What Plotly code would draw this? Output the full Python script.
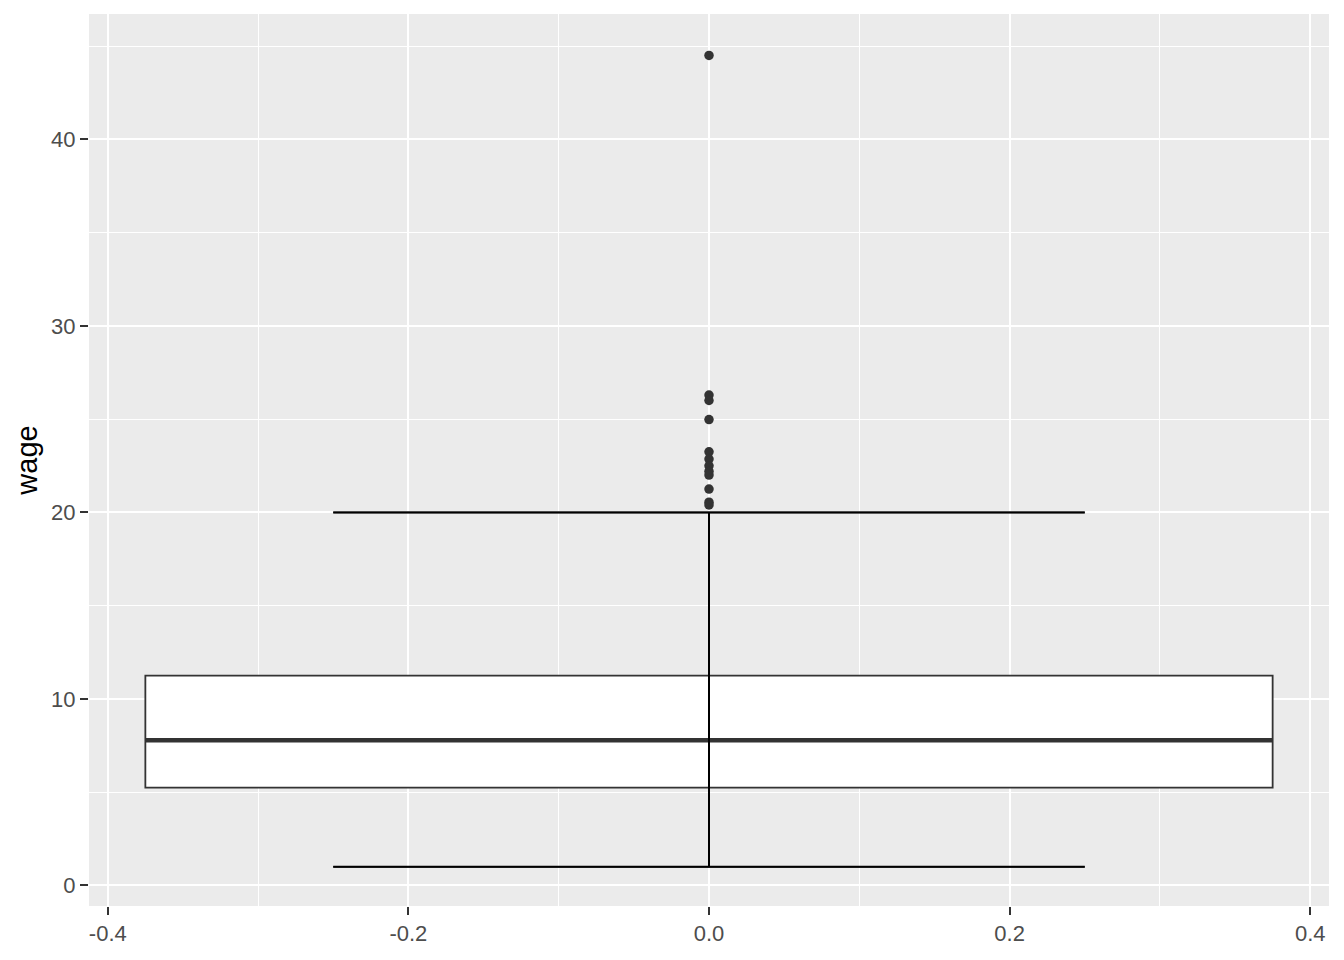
import plotly.graph_objects as go

# Box statistics (wage)
position = [0.0]
q1 = [5.25]
median = [7.78]
q3 = [11.25]
lower_whisker = [1.0]
upper_whisker = [20.0]
outliers = [44.5, 26.29, 26.0, 24.98, 23.25, 22.86, 22.5, 22.2, 22.0, 21.25, 20.55, 20.4]

x_tick_values = [-0.4, -0.2, 0.0, 0.2, 0.4]
x_tick_labels = ["-0.4", "-0.2", "0.0", "0.2", "0.4"]
y_tick_values = [0, 10, 20, 30, 40]
y_tick_labels = ["0", "10", "20", "30", "40"]

box_width = 0.75
cap_width = 0.5
FONT = "Liberation Sans, Arial, sans-serif"

fig = go.Figure()

fig.add_trace(go.Box(
    x=position, q1=q1, median=median, q3=q3,
    lowerfence=lower_whisker, upperfence=upper_whisker,
    width=box_width, whiskerwidth=cap_width / box_width,
    boxpoints=False, fillcolor="white",
    line=dict(color="#333333", width=1.8),
    showlegend=False, hoverinfo="skip",
))

# thick median line (ggplot fatten)
fig.add_trace(go.Scatter(
    x=[position[0] - box_width / 2, position[0] + box_width / 2],
    y=[median[0], median[0]],
    mode="lines", line=dict(color="#333333", width=4.5),
    showlegend=False, hoverinfo="skip",
))

# errorbar layer drawn on top
half = cap_width / 2
p = position[0]
fig.add_trace(go.Scatter(
    x=[p - half, p + half, None, p - half, p + half, None, p, p],
    y=[upper_whisker[0], upper_whisker[0], None, lower_whisker[0], lower_whisker[0], None,
       lower_whisker[0], upper_whisker[0]],
    mode="lines", line=dict(color="black", width=2),
    showlegend=False, hoverinfo="skip",
))

fig.add_trace(go.Scatter(
    x=[p] * len(outliers), y=outliers, mode="markers",
    marker=dict(color="#333333", size=9.5, line=dict(width=0)),
    showlegend=False,
))

axis_common = dict(
    showgrid=True, gridcolor="white", gridwidth=2,
    zeroline=False, showline=False,
    ticks="outside", ticklen=8, tickwidth=2, tickcolor="#333333",
    tickfont=dict(family=FONT, size=22, color="#4D4D4D"),
    tickmode="array",
)

fig.update_layout(
    width=1328, height=944,
    paper_bgcolor="white", plot_bgcolor="#EBEBEB",
    margin=dict(l=81, r=7, t=6, b=43),
    xaxis=dict(range=[-0.4125, 0.4125], tickvals=x_tick_values, ticktext=x_tick_labels,
               minor=dict(showgrid=True, gridcolor="white", gridwidth=1, dtick=0.1, tick0=0, ticks=""),
               **axis_common),
    yaxis=dict(range=[-1.1, 46.72], tickvals=y_tick_values, ticktext=y_tick_labels,
               minor=dict(showgrid=True, gridcolor="white", gridwidth=1, dtick=5, tick0=0, ticks=""),
               title=dict(text="wage", font=dict(family=FONT, size=29, color="black"), standoff=4),
               **axis_common),
)

fig.write_html("out.html")
